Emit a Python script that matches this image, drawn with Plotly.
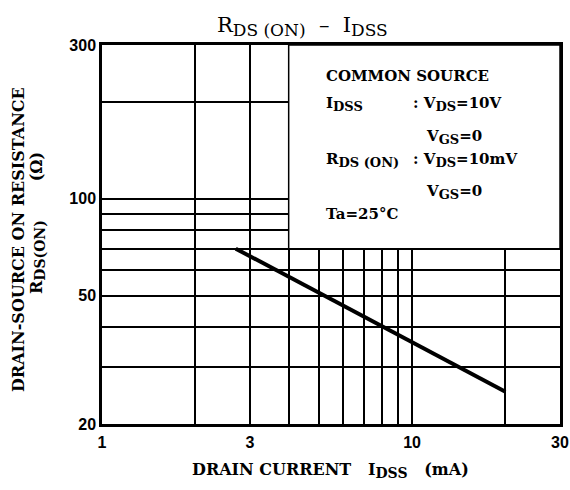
import math
import plotly.graph_objects as go

# ---- data ----
idss_ma = [2.7, 5.2, 8.05, 20]
rds_on = [70, 50, 40, 25.2]

x_ticks = [1, 2, 3, 4, 5, 6, 7, 8, 9, 10, 20, 30]
x_ticktext = ["1", "", "3", "", "", "", "", "", "", "10", "", "30"]
y_ticks = [20, 30, 40, 50, 60, 70, 80, 90, 100, 200, 300]
y_ticktext = ["20", "", "", "50", "", "", "", "", "100", "", "300"]

box_x = [4, 30, 30, 4, 4]
box_y = [70, 70, 300, 300, 70]

SERIF = "DejaVu Serif"
SANS = "Liberation Sans"

fig = go.Figure()

# white condition box (covers grid in the upper right)
fig.add_trace(go.Scatter(x=box_x, y=box_y, mode="lines", fill="toself",
                         fillcolor="white", line=dict(color="black", width=1.5),
                         hoverinfo="skip", showlegend=False))

# characteristic line
fig.add_trace(go.Scatter(x=idss_ma, y=rds_on, mode="lines",
                         line=dict(color="black", width=4), showlegend=False))

axis_common = dict(type="log", showgrid=True, gridcolor="black", gridwidth=1.5,
                   showline=True, linecolor="black", linewidth=2.5, mirror=True,
                   ticks="", zeroline=False, automargin=False,
                   tickfont=dict(family=SANS, size=16, color="black", weight="bold"))

fig.update_xaxes(range=[0, math.log10(30)], tickvals=x_ticks, ticktext=x_ticktext,
                 ticklabelstandoff=2, **axis_common)
fig.update_yaxes(range=[math.log10(20), math.log10(300)], tickvals=y_ticks,
                 ticktext=y_ticktext, ticklabelstandoff=0, **axis_common)

L, R, T, B = 102, 10, 45, 66
W, H = 570, 490
pw, ph = W - L - R, H - T - B

def px(xp):
    return (xp - L) / pw

def py(yp):
    return (H - B - yp) / ph

def sub(t, size):
    return "<sub><span style='font-size:%dpx'>%s</span></sub>" % (size, t)

box_font = dict(family=SERIF, size=15, color="black", weight="bold")
axis_font = dict(family=SERIF, size=16, color="black", weight="bold")

ann = []
def ct(text, xp, yp, font, angle=0):
    ann.append(dict(text=text, x=px(xp), y=py(yp), xref="paper", yref="paper",
                    showarrow=False, xanchor="center", yanchor="middle",
                    textangle=angle, font=font))

# title
ct("R" + sub("DS (ON)", 17) + "  –  I" + sub("DSS", 17), 302, 26,
   dict(family=SERIF, size=21, color="black"))
# x title
ct("DRAIN CURRENT   I" + sub("DSS", 14) + "   (mA)", 330, 470, axis_font)
# y titles
ct("DRAIN-SOURCE ON RESISTANCE", 18, 240, axis_font, -90)
ct("R" + sub("DS(ON)", 14) + "&nbsp;&nbsp;&nbsp;&nbsp;&nbsp;&nbsp;&nbsp;(Ω)", 38, 223,
   axis_font, -90)

# conditions box text
def lt(text, xp, yp):
    ann.append(dict(text=text, x=px(xp), y=py(yp), xref="paper", yref="paper",
                    showarrow=False, xanchor="left", yanchor="middle", font=box_font))

lt("COMMON SOURCE", 324, 76)
lt("I" + sub("DSS", 13), 324, 104)
lt(": V" + sub("DS", 13) + "=10V", 411, 104)
lt("V" + sub("GS", 13) + "=0", 424, 137)
lt("R" + sub("DS (ON)", 13), 324, 160)
lt(": V" + sub("DS", 13) + "=10mV", 411, 160)
lt("V" + sub("GS", 13) + "=0", 424, 192)
lt("Ta=25°C", 324, 214)

fig.update_layout(width=W, height=H, autosize=False,
                  margin=dict(l=L, r=R, t=T, b=B, autoexpand=False),
                  paper_bgcolor="white", plot_bgcolor="white",
                  annotations=ann, showlegend=False)

fig.write_html("out.html",
               config={"displayModeBar": False, "responsive": False},
               post_script="document.body.style.margin='0';"
                           "document.body.style.overflow='hidden';"
                           "document.documentElement.style.overflow='hidden';")
